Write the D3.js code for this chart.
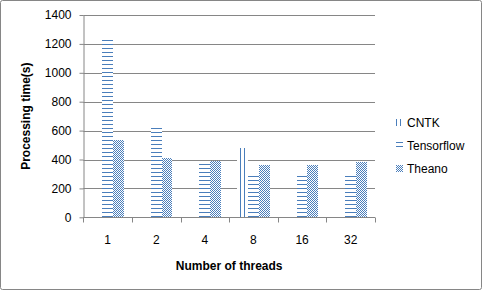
<!DOCTYPE html>
<html lang="en">
<head>
<meta charset="utf-8">
<title>Processing time chart</title>
<script src="https://cdn.jsdelivr.net/npm/d3@7/dist/d3.min.js"></script>
<style>
  body { margin: 0; background: #fff; }
  text { font-family: "Liberation Sans", Arial, sans-serif; fill: #000; }
</style>
</head>
<body>
<script>
// data
var threads = ["1", "2", "4", "8", "16", "32"];
var seriesNames = ["CNTK", "Tensorflow", "Theano"];
var cntk = [null, null, null, 480, null, null];
var tensorflow = [1230, 620, 370, 285, 285, 285];
var theano = [535, 410, 390, 360, 360, 380];
var yTicks = [0, 200, 400, 600, 800, 1000, 1200, 1400];

var W = 483, H = 291;
var blue = "#4a7ebb", grid = "#868686";
var plot = {left: 83.3, right: 375, top: 15, bottom: 217.3};

var svg = d3.select("body").append("svg")
  .attr("width", W).attr("height", H);

// fill patterns, white behind so gridlines are hidden by the bars
var defs = svg.append("defs");
function pattern(id, size) {
  var p = defs.append("pattern").attr("id", id)
    .attr("patternUnits", "userSpaceOnUse").attr("width", size).attr("height", size);
  p.append("rect").attr("width", size).attr("height", size).attr("fill", "#fff");
  return p;
}
pattern("p-cntk", 4).append("rect").attr("width", 1).attr("height", 4)
  .attr("fill", blue).attr("shape-rendering", "crispEdges");
pattern("p-tf", 4).append("rect").attr("width", 4).attr("height", 1)
  .attr("fill", blue).attr("shape-rendering", "crispEdges");
var pc = pattern("p-theano", 2);
pc.append("rect").attr("x", 0).attr("y", 0).attr("width", 1).attr("height", 1)
  .attr("fill", blue).attr("shape-rendering", "crispEdges");
pc.append("rect").attr("x", 1).attr("y", 1).attr("width", 1).attr("height", 1)
  .attr("fill", blue).attr("shape-rendering", "crispEdges");

var fills = {"CNTK": "url(#p-cntk)", "Tensorflow": "url(#p-tf)", "Theano": "url(#p-theano)"};

// outer border
svg.append("rect")
  .attr("x", 0.5).attr("y", 0.5).attr("width", 481).attr("height", 289)
  .attr("rx", 2).attr("fill", "#fff").attr("stroke", grid);

var x0 = d3.scaleBand().domain(threads).range([plot.left, plot.right]);
var x1 = d3.scaleBand().domain(seriesNames).range([0, x0.bandwidth()])
  .paddingInner(0).paddingOuter(0.75);
var y = d3.scaleLinear().domain([0, 1400]).range([plot.bottom, plot.top]);

// gridlines
svg.append("g").selectAll("line").data(yTicks.slice(1)).enter().append("line")
  .attr("x1", plot.left).attr("x2", plot.right)
  .attr("y1", function(d) { return Math.round(y(d)) + 0.5; })
  .attr("y2", function(d) { return Math.round(y(d)) + 0.5; })
  .attr("stroke", grid).attr("stroke-width", 1);

// bars (absolute coordinates so the patterns stay on the pixel grid)
var bars = [];
threads.forEach(function(t, i) {
  var vals = [cntk[i], tensorflow[i], theano[i]];
  seriesNames.forEach(function(s, j) {
    if (vals[j] != null) bars.push({t: t, s: s, v: vals[j]});
  });
});
var base = Math.round(plot.bottom);
svg.append("g").selectAll("rect").data(bars).enter().append("rect")
  .attr("x", function(d) { return Math.round(x0(d.t) + x1(d.s)); })
  .attr("width", function(d) {
    return Math.round(x0(d.t) + x1(d.s) + x1.bandwidth()) - Math.round(x0(d.t) + x1(d.s));
  })
  .attr("y", function(d) { return Math.round(y(d.v)); })
  .attr("height", function(d) { return base - Math.round(y(d.v)); })
  .attr("fill", function(d) { return fills[d.s]; })
  .attr("shape-rendering", "crispEdges");

// y axis
var yAxis = svg.append("g")
  .attr("transform", "translate(" + (Math.round(plot.left) + 0.5) + ",0)")
  .call(d3.axisLeft(y).tickValues(yTicks).tickFormat(d3.format("d"))
    .tickSize(4).tickPadding(8).tickSizeOuter(0));
yAxis.select(".domain").attr("stroke", grid);
yAxis.selectAll(".tick line").attr("stroke", grid);
yAxis.selectAll("text").attr("font-size", "12px")
  .attr("font-family", "'Liberation Sans', Arial, sans-serif").attr("fill", "#000");

// x axis with ticks at category boundaries
var xAxisG = svg.append("g")
  .attr("transform", "translate(0," + (Math.round(plot.bottom) + 0.5) + ")");
xAxisG.append("line").attr("x1", plot.left).attr("x2", plot.right)
  .attr("stroke", grid);
var bounds = threads.map(function(t) { return x0(t); }).concat([plot.right]);
xAxisG.selectAll("line.tk").data(bounds).enter().append("line").attr("class", "tk")
  .attr("x1", function(d) { return Math.round(d) + 0.5; })
  .attr("x2", function(d) { return Math.round(d) + 0.5; })
  .attr("y1", 0).attr("y2", 5).attr("stroke", grid);
xAxisG.selectAll("text").data(threads).enter().append("text")
  .attr("x", function(d) { return x0(d) + x0.bandwidth() / 2; })
  .attr("y", 26).attr("text-anchor", "middle").attr("font-size", "12px")
  .text(function(d) { return d; });

// axis titles
svg.append("text")
  .attr("x", (plot.left + plot.right) / 2).attr("y", 270)
  .attr("text-anchor", "middle").attr("font-size", "12px").attr("font-weight", "bold")
  .text("Number of threads");
svg.append("text")
  .attr("transform", "translate(30," + ((plot.top + plot.bottom) / 2) + ") rotate(-90)")
  .attr("text-anchor", "middle").attr("font-size", "12px").attr("font-weight", "bold")
  .text("Processing time(s)");

// legend
var legend = svg.append("g").selectAll("g").data(seriesNames).enter().append("g")
  .attr("transform", function(d, i) { return "translate(396," + (119 + i * 23) + ")"; });
legend.append("rect").attr("width", 7).attr("height", 7)
  .attr("fill", function(d) { return fills[d]; })
  .attr("shape-rendering", "crispEdges");
legend.append("text").attr("x", 11).attr("y", 8).attr("font-size", "12px")
  .text(function(d) { return d; });
</script>
</body>
</html>
